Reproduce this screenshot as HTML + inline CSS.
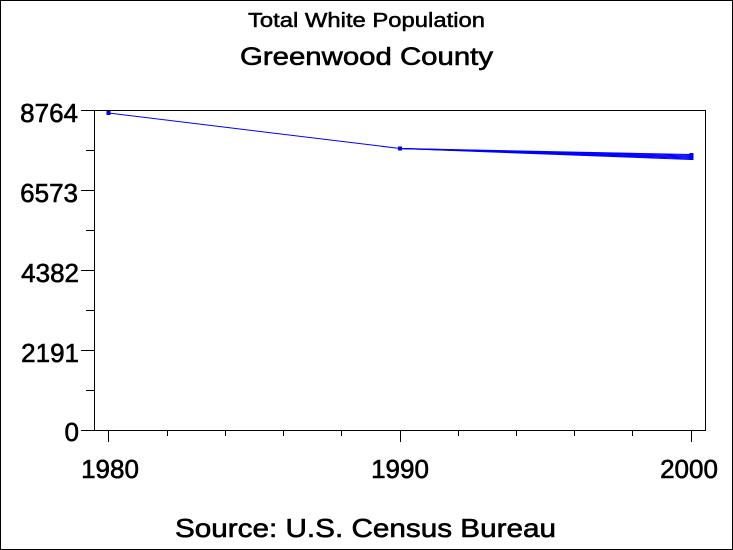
<!DOCTYPE html>
<html>
<head>
<meta charset="utf-8">
<style>
  html, body { margin: 0; padding: 0; background: #fff; }
  svg { display: block; }
  text { font-family: "Liberation Sans", Arial, sans-serif; fill: #000; stroke: #000; stroke-width: 0.6; }
</style>
</head>
<body>
<svg width="733" height="550" viewBox="0 0 733 550" xmlns="http://www.w3.org/2000/svg">
  <rect x="0" y="0" width="733" height="550" fill="#fff"/>
  <rect x="0.5" y="0.5" width="732" height="549" fill="none" stroke="#000" stroke-width="1"/>

  <!-- Titles -->
  <text x="248" y="27" font-size="20" textLength="237" lengthAdjust="spacingAndGlyphs" style="stroke-width:0.5">Total White Population</text>
  <text x="240" y="65" font-size="25" textLength="253" lengthAdjust="spacingAndGlyphs">Greenwood County</text>

  <!-- Plot frame -->
  <rect x="94.5" y="110.5" width="611" height="320" fill="none" stroke="#000" stroke-width="1"/>

  <!-- Y ticks -->
  <g stroke="#000" stroke-width="1">
    <line x1="81" y1="110.5" x2="94" y2="110.5"/>
    <line x1="86" y1="150.5" x2="94" y2="150.5"/>
    <line x1="81" y1="190.5" x2="94" y2="190.5"/>
    <line x1="86" y1="230.5" x2="94" y2="230.5"/>
    <line x1="81" y1="270.5" x2="94" y2="270.5"/>
    <line x1="86" y1="310.5" x2="94" y2="310.5"/>
    <line x1="81" y1="350.5" x2="94" y2="350.5"/>
    <line x1="86" y1="390.5" x2="94" y2="390.5"/>
    <line x1="81" y1="430.5" x2="94" y2="430.5"/>
  </g>

  <!-- X ticks -->
  <g stroke="#000" stroke-width="1">
    <line x1="108.5" y1="431" x2="108.5" y2="442"/>
    <line x1="167.5" y1="431" x2="167.5" y2="436"/>
    <line x1="225.5" y1="431" x2="225.5" y2="436"/>
    <line x1="283.5" y1="431" x2="283.5" y2="436"/>
    <line x1="341.5" y1="431" x2="341.5" y2="436"/>
    <line x1="400.5" y1="431" x2="400.5" y2="442"/>
    <line x1="458.5" y1="431" x2="458.5" y2="436"/>
    <line x1="516.5" y1="431" x2="516.5" y2="436"/>
    <line x1="574.5" y1="431" x2="574.5" y2="436"/>
    <line x1="632.5" y1="431" x2="632.5" y2="436"/>
    <line x1="691.5" y1="431" x2="691.5" y2="442"/>
  </g>

  <!-- Y labels -->
  <g font-size="26" text-anchor="end">
    <text x="78" y="122">8764</text>
    <text x="78" y="202">6573</text>
    <text x="79" y="282">4382</text>
    <text x="79" y="362">2191</text>
    <text x="79" y="441">0</text>
  </g>

  <!-- X labels -->
  <g font-size="26" text-anchor="middle">
    <text x="110" y="478">1980</text>
    <text x="400" y="478">1990</text>
    <text x="689" y="478">2000</text>
  </g>

  <!-- Data -->
  <g stroke="#0000ff" stroke-width="1" fill="none">
    <line x1="108.5" y1="113" x2="400" y2="148.5"/>
    <line x1="400" y1="148.5" x2="691.5" y2="154.5"/>
    <line x1="400" y1="148.5" x2="691.5" y2="155.5"/>
    <line x1="400" y1="148.5" x2="691.5" y2="156.5"/>
    <line x1="400" y1="148.5" x2="691.5" y2="157.5"/>
    <line x1="400" y1="148.5" x2="691.5" y2="158.5"/>
    <line x1="400" y1="148.5" x2="691.5" y2="159.5"/>
  </g>
  <g fill="#0000ff">
    <rect x="106.5" y="111" width="4" height="4"/>
    <rect x="398" y="146.5" width="4" height="4"/>
    <rect x="689.5" y="153" width="4" height="4"/>
    <rect x="689.5" y="156" width="4" height="4"/>
  </g>

  <!-- Footnote -->
  <text x="175" y="537" font-size="26" textLength="381" lengthAdjust="spacingAndGlyphs">Source: U.S. Census Bureau</text>
</svg>
</body>
</html>
